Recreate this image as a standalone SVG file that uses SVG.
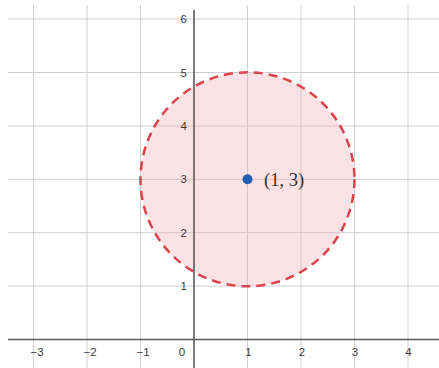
<svg xmlns="http://www.w3.org/2000/svg" width="439" height="368" viewBox="0 0 439 368">
<style>
.grid{stroke:#cfcfcf;stroke-width:1;fill:none}
.axis{stroke:#5a5a5a;stroke-width:1.6;fill:none}
.tick{font-family:"Liberation Sans",Arial,sans-serif;font-size:11.5px;fill:#3a3a3a}
</style>
<rect width="439" height="368" fill="#ffffff"/>
<g id="grid" class="grid">
<path d="M8 19H439M8 72.5H439M8 126H439M8 179.3H439M8 232.7H439M8 286H439"/>
<path d="M33.5 5V368M87 5V368M140.5 5V368M247.5 5V368M301 5V368M354.5 5V368M408 5V368"/>
</g>
<g id="circle">
<circle cx="247.5" cy="179.3" r="107" fill="#f4a6ae" fill-opacity="0.33" stroke="#dc4350" stroke-width="2.5" stroke-dasharray="9 6"/>
</g>
<g id="axes" class="axis">
<path d="M8 339.5H439"/>
<path d="M194 10V368"/>
</g>
<g id="ticks" class="tick">
<g text-anchor="end">
<text x="187" y="23">6</text>
<text x="187" y="76.5">5</text>
<text x="187" y="130">4</text>
<text x="187" y="183.3">3</text>
<text x="187" y="236.7">2</text>
<text x="187" y="290">1</text>
</g>
<g text-anchor="middle">
<text x="37" y="356">−3</text>
<text x="90" y="356">−2</text>
<text x="143" y="356">−1</text>
<text x="182" y="356">0</text>
<text x="248.5" y="356">1</text>
<text x="302" y="356">2</text>
<text x="355" y="356">3</text>
<text x="408.5" y="356">4</text>
</g>
</g>
<g id="point">
<circle cx="247.5" cy="179.3" r="5" fill="#1d5fae"/>
<text x="264" y="185.5" font-family="'Liberation Serif','DejaVu Serif',serif" font-size="18.5" fill="#333">(1, 3)</text>
</g>
</svg>
